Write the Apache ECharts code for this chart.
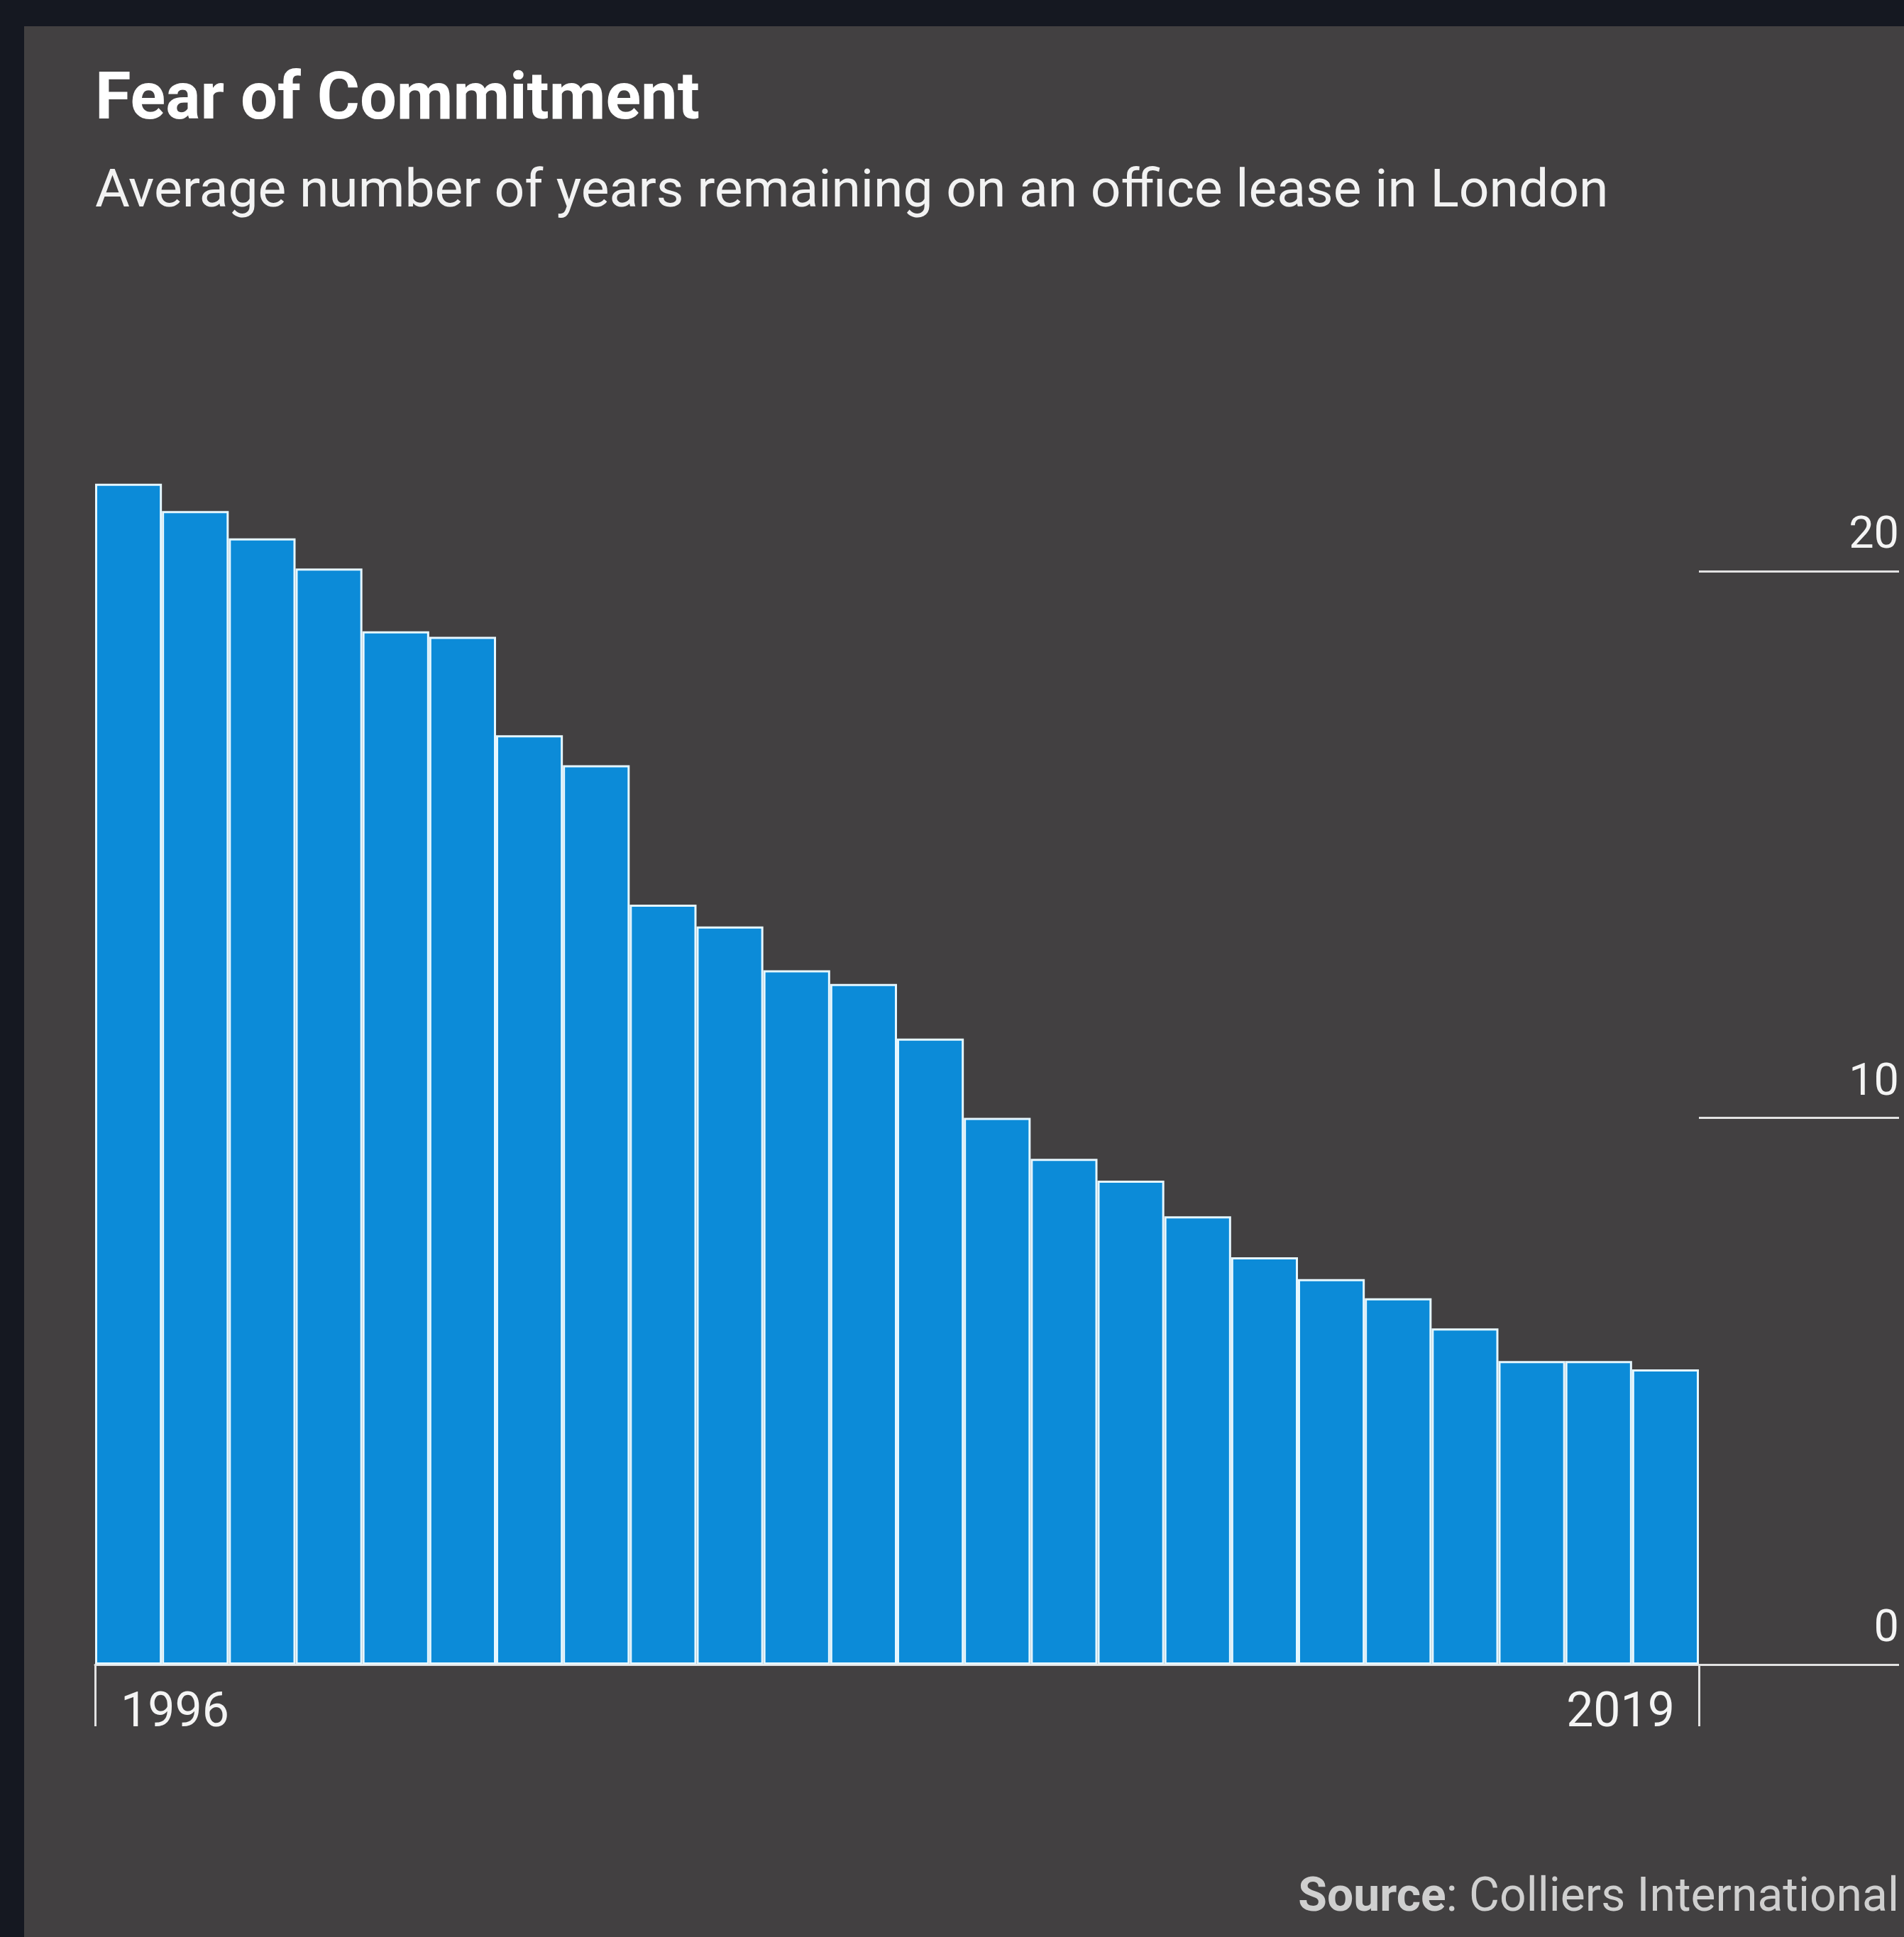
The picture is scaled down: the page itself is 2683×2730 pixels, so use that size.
<!DOCTYPE html>
<html><head><meta charset="utf-8">
<script src="https://cdn.jsdelivr.net/npm/echarts@6/dist/echarts.min.js"></script>
<style>
html,body{margin:0;padding:0;background:#151821;}
#panel{position:absolute;left:34px;top:37px;right:0;bottom:0;background:#424041;}
#c{position:absolute;left:0;top:0;width:2683px;height:2730px;}
</style>
</head><body><div id="panel"></div><div id="c"></div>
<script>
const years = ['1996','1997','1998','1999','2000','2001','2002','2003','2004','2005','2006','2007',
               '2008','2009','2010','2011','2012','2013','2014','2015','2016','2017','2018','2019'];
const leaseYears = [21.6, 21.1, 20.6, 20.05, 18.9, 18.8, 17.0, 16.45, 13.9, 13.5, 12.7, 12.45,
                    11.45, 10.0, 9.25, 8.85, 8.2, 7.45, 7.05, 6.7, 6.15, 5.55, 5.55, 5.4];
const yTicks = [0, 10, 20];
const titleText = 'Fear of Commitment';
const subtitleText = 'Average number of years remaining on an office lease in London';
const sourceLabel = 'Source';
const sourceText = 'Colliers International';

const FONT = 'Roboto, "Noto Sans", sans-serif';
const LINE = '#e2e2e2';
const chart = echarts.init(document.getElementById('c'), null, {renderer: 'canvas'});
const n = years.length;

chart.setOption({
  backgroundColor: 'transparent',
  animation: false,
  grid: [
    {left: 134, right: 289, top: 34.5, bottom: 384},
    {left: 2394, right: 7, top: 34.5, bottom: 384}
  ],
  xAxis: [
    {type: 'category', gridIndex: 0, data: years, position: 'bottom',
     axisLine: {show: true, lineStyle: {color: LINE, width: 3}},
     axisTick: {show: false}, axisLabel: {show: false}, splitLine: {show: false}},
    {type: 'value', gridIndex: 0, min: 0, max: n, interval: n, position: 'bottom',
     axisLine: {show: false},
     axisTick: {show: true, length: 87, lineStyle: {color: LINE, width: 3}},
     splitLine: {show: false},
     axisLabel: {show: true, color: '#f4f4f4', fontFamily: FONT, fontSize: 68, margin: 36,
       align: 'left', padding: [0, 0, 0, 36],
       formatter: v => (v === 0 ? years[0] : '')}},
    {type: 'value', gridIndex: 0, min: 0, max: n, interval: n, position: 'bottom',
     axisLine: {show: false}, axisTick: {show: false}, splitLine: {show: false},
     axisLabel: {show: true, color: '#f4f4f4', fontFamily: FONT, fontSize: 68, margin: 36,
       align: 'right', padding: [0, 34, 0, 0],
       showMinLabel: false,
       formatter: v => (v === n ? years[n - 1] : '')}},
    {type: 'value', gridIndex: 1, min: 0, max: 1, show: false}
  ],
  yAxis: [
    {type: 'value', gridIndex: 0, min: 0, max: 30, interval: 10, show: false},
    {type: 'value', gridIndex: 1, min: 0, max: 30, interval: 10, position: 'right',
     axisLine: {show: false}, axisTick: {show: false},
     splitLine: {show: true, showMaxLine: false, lineStyle: {color: LINE, width: 3}},
     axisLabel: {show: true, inside: true, color: '#f4f4f4', fontFamily: FONT, fontSize: 63,
       margin: 0, verticalAlign: 'bottom', padding: [0, 0, 17, 0],
       formatter: v => (yTicks.includes(v) ? String(v) : '')}}
  ],
  series: [{
    type: 'bar', xAxisIndex: 0, yAxisIndex: 0, data: leaseYears,
    barCategoryGap: 0,
    itemStyle: {color: '#0c8bd8', borderColor: '#e6f7ff', borderWidth: 3}
  }],
  graphic: [
    {type: 'text', style: {x: 134, y: 144, text: titleText, font: 'bold 92px ' + FONT,
      fill: '#ffffff', verticalAlign: 'middle', align: 'left'}},
    {type: 'text', style: {x: 134, y: 272, text: subtitleText, font: '75px ' + FONT,
      fill: '#f2f2f2', verticalAlign: 'middle', align: 'left'}},
    {type: 'text', style: {x: 2676, y: 2676, text: '{b|' + sourceLabel + '}: ' + sourceText,
      font: '66px ' + FONT, fill: '#cfcfcf', verticalAlign: 'middle', align: 'right',
      rich: {b: {fontWeight: 'bold', fontSize: 66, fontFamily: FONT, fill: '#cfcfcf', color: '#cfcfcf'}}}}
  ]
});
</script>
</body></html>
